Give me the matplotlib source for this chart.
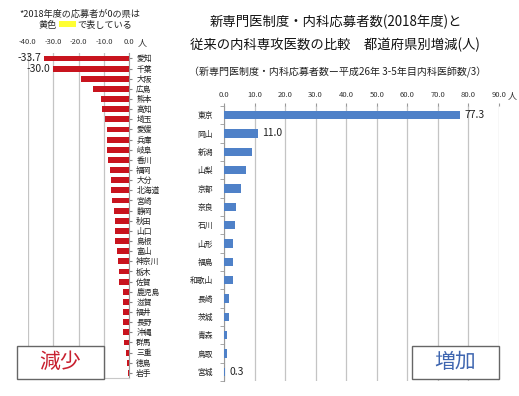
import matplotlib
matplotlib.use('Agg')
import matplotlib.pyplot as plt
from matplotlib.patches import Rectangle
import numpy as np

plt.rcParams['font.family'] = ['Noto Sans CJK JP', 'DejaVu Sans']

W, H = 519, 396

# prefectures where applicants went down (人)
dec_names = ['愛知', '千葉', '大阪', '広島', '熊本', '高知', '埼玉', '愛媛', '兵庫', '岐阜',
             '香川', '福岡', '大分', '北海道', '宮崎', '静岡', '秋田', '山口', '島根', '富山',
             '神奈川', '栃木', '佐賀', '鹿児島', '滋賀', '福井', '長野', '沖縄', '群馬', '三重',
             '徳島', '岩手']
dec_vals = [-33.7, -30.0, -19.0, -14.4, -11.3, -10.8, -9.4, -8.8, -8.8, -8.7,
            -8.2, -7.7, -7.2, -7.2, -6.8, -6.2, -5.8, -5.8, -5.8, -5.0,
            -4.6, -4.0, -3.9, -2.5, -2.5, -2.4, -2.3, -2.3, -2.1, -1.4,
            -0.8, -0.7]
dec_labeled = ['愛知', '千葉']

# prefectures where applicants went up (人)
inc_names = ['東京', '岡山', '新潟', '山梨', '京都', '奈良', '石川', '山形', '福島', '和歌山',
             '長崎', '茨城', '青森', '鳥取', '宮城']
inc_vals = [77.3, 11.0, 9.0, 7.1, 5.7, 3.9, 3.5, 3.0, 3.0, 2.9, 1.7, 1.7, 1.0, 0.9, 0.3]
inc_labeled = ['東京', '岡山', '宮城']

dec_ticks = [-40, -30, -20, -10, 0]
inc_ticks = [0, 10, 20, 30, 40, 50, 60, 70, 80, 90]

RED = '#c8141e'
BLUE = '#4f81c8'
GRID = '#c4c4c4'


def fx(x): return x / W
def fy(y): return 1 - y / H


fig = plt.figure(figsize=(W / 100, H / 100), dpi=100)
fig.patch.set_facecolor('white')

# ---- left chart (decrease) ----
axL = fig.add_axes([fx(27.7), fy(378), fx(129.3) - fx(27.7), fy(53.4) - fy(378)])
yL = np.arange(len(dec_names))
axL.barh(yL, dec_vals, height=0.58, color=RED, zorder=3)
axL.set_xlim(-40, 0)
axL.set_ylim(len(dec_names) - 0.5, -0.5)
axL.set_xticks(dec_ticks)
axL.set_xticklabels(['%.1f' % t for t in dec_ticks], fontsize=5.5, color='#333333')
axL.xaxis.tick_top()
axL.tick_params(axis='x', length=0, pad=5)
axL.set_yticks(yL)
axL.set_yticklabels(dec_names, fontsize=5.6, color='#222222')
axL.yaxis.tick_right()
axL.tick_params(axis='y', length=2, pad=3, color='#888888')
axL.grid(axis='x', color=GRID, linewidth=0.9, zorder=0)
for s in ['left', 'top']:
    axL.spines[s].set_visible(False)
axL.spines['right'].set_color('#999999')
axL.spines['bottom'].set_color('#c8c8c8')
for n, v, y in zip(dec_names, dec_vals, yL):
    if n in dec_labeled:
        axL.annotate('%.1f' % v, (v, y), xytext=(-2, 0), textcoords='offset points',
                     ha='right', va='center', fontsize=7.5, color='#222222',
                     annotation_clip=False)
fig.text(fx(138), fy(43), '人', fontsize=6.5, ha='left', va='center', color='#333333')

# note about yellow
fig.text(fx(80), fy(14), '*2018年度の応募者が0の県は', fontsize=6.6, ha='center', va='center',
         color='#222222')
fig.text(fx(57), fy(25), '黄色', fontsize=6.6, ha='right', va='center', color='#222222')
fig.patches.append(Rectangle((fx(59), fy(27)), fx(76) - fx(59), fy(21) - fy(27),
                             transform=fig.transFigure, facecolor='#ffff33', edgecolor='none'))
fig.text(fx(77), fy(25), 'で表している', fontsize=6.6, ha='left', va='center', color='#222222')

# ---- right chart (increase) ----
axR = fig.add_axes([fx(224), fy(381), fx(499) - fx(224), fy(106) - fy(381)])
yR = np.arange(len(inc_names))
axR.barh(yR, inc_vals, height=0.47, color=BLUE, zorder=3)
axR.set_xlim(0, 90)
axR.set_ylim(len(inc_names) - 0.5, -0.5)
axR.set_xticks(inc_ticks)
axR.set_xticklabels(['%.1f' % t for t in inc_ticks], fontsize=5.5, color='#333333')
axR.xaxis.tick_top()
axR.tick_params(axis='x', length=2, pad=3, color='#999999')
axR.set_yticks(yR)
axR.set_yticklabels(inc_names, fontsize=5.6, color='#222222')
axR.set_yticks(np.arange(len(inc_names) + 1) - 0.5, minor=True)
axR.tick_params(axis='y', which='major', length=0, pad=8)
axR.tick_params(axis='y', which='minor', length=3, color='#999999')
axR.grid(axis='x', color=GRID, linewidth=0.9, zorder=0)
for s in ['right', 'bottom', 'top']:
    axR.spines[s].set_visible(False)
axR.spines['left'].set_color('#999999')
for n, v, y in zip(inc_names, inc_vals, yR):
    if n in inc_labeled:
        axR.annotate('%.1f' % v, (v, y), xytext=(3, 0), textcoords='offset points',
                     ha='left', va='center', fontsize=7.5, color='#222222')
fig.text(fx(512), fy(96), '人', fontsize=6.5, ha='center', va='center', color='#333333')

# titles
fig.text(fx(336), fy(22), '新専門医制度・内科応募者数(2018年度)と', fontsize=9.6,
         ha='center', va='center', color='#111111')
fig.text(fx(335), fy(45), '従来の内科専攻医数の比較　都道府県別増減(人)', fontsize=9.6,
         ha='center', va='center', color='#111111')
fig.text(fx(338), fy(72), '（新専門医制度・内科応募者数ー平成26年 3-5年目内科医師数/3）',
         fontsize=7.2, ha='center', va='center', color='#222222')

# boxes
for x0, x1, txt, col in [(17, 104, '減少', '#c8202f'), (412, 499, '増加', '#3f66b0')]:
    fig.patches.append(Rectangle((fx(x0), fy(379)), fx(x1) - fx(x0), fy(346) - fy(379),
                                 transform=fig.transFigure, facecolor='white',
                                 edgecolor='#666666', linewidth=1.0, zorder=5))
    fig.text(fx((x0 + x1) / 2), fy(362), txt, fontsize=15, ha='center', va='center',
             color=col, zorder=6)

fig.savefig('out.png', dpi=100)
